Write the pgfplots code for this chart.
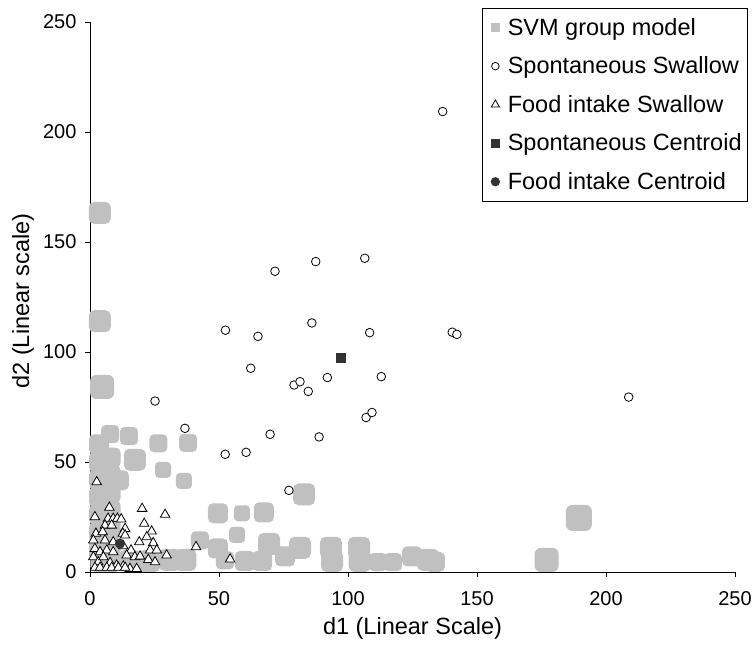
\documentclass[border=0pt]{standalone}
\usepackage{pgfplots}
\pgfplotsset{compat=1.18}
\usepackage{fontspec}
\setmainfont{Liberation Sans}
\definecolor{svmgray}{RGB}{192,192,192}
\definecolor{cdark}{RGB}{51,51,51}
\pgfdeclareplotmark{rsq}{%
  \pgfpathmoveto{\pgfqpoint{-\pgfplotmarksize}{0pt}}%
  \pgfpathlineto{\pgfqpoint{-\pgfplotmarksize}{0.5\pgfplotmarksize}}%
  \pgfpathcurveto{\pgfqpoint{-\pgfplotmarksize}{0.78\pgfplotmarksize}}{\pgfqpoint{-0.78\pgfplotmarksize}{\pgfplotmarksize}}{\pgfqpoint{-0.5\pgfplotmarksize}{\pgfplotmarksize}}%
  \pgfpathlineto{\pgfqpoint{0.5\pgfplotmarksize}{\pgfplotmarksize}}%
  \pgfpathcurveto{\pgfqpoint{0.78\pgfplotmarksize}{\pgfplotmarksize}}{\pgfqpoint{\pgfplotmarksize}{0.78\pgfplotmarksize}}{\pgfqpoint{\pgfplotmarksize}{0.5\pgfplotmarksize}}%
  \pgfpathlineto{\pgfqpoint{\pgfplotmarksize}{-0.5\pgfplotmarksize}}%
  \pgfpathcurveto{\pgfqpoint{\pgfplotmarksize}{-0.78\pgfplotmarksize}}{\pgfqpoint{0.78\pgfplotmarksize}{-\pgfplotmarksize}}{\pgfqpoint{0.5\pgfplotmarksize}{-\pgfplotmarksize}}%
  \pgfpathlineto{\pgfqpoint{-0.5\pgfplotmarksize}{-\pgfplotmarksize}}%
  \pgfpathcurveto{\pgfqpoint{-0.78\pgfplotmarksize}{-\pgfplotmarksize}}{\pgfqpoint{-\pgfplotmarksize}{-0.78\pgfplotmarksize}}{\pgfqpoint{-\pgfplotmarksize}{-0.5\pgfplotmarksize}}%
  \pgfpathclose
  \pgfusepathqfill}
\begin{document}
\begin{tikzpicture}
\useasboundingbox (0,0) rectangle (756pt,647pt);
\begin{axis}[
  at={(90pt,75pt)}, anchor=south west,
  width=645pt, height=550pt, scale only axis,
  xmin=0, xmax=250, ymin=0, ymax=250,
  xtick={0,50,...,250}, ytick={0,50,...,250},
  axis x line*=bottom, axis y line*=left,
  axis line style={black, line width=0.8pt},
  tick align=outside, major tick length=5pt,
  tick style={black, line width=0.8pt},
  /pgf/number format/assume math mode=true,
  ticklabel style={font=\fontsize{20}{24}\selectfont},
  xticklabel style={yshift=-11pt},
  yticklabel style={xshift=-5pt},
  xlabel={d1 (Linear Scale)}, ylabel={d2 (Linear scale)},
  every axis x label/.style={at={(axis description cs:0.5,-0.1018)}, anchor=center, font=\fontsize{23.5}{28}\selectfont},
  every axis y label/.style={at={(axis description cs:-0.1039,0.4927)}, rotate=90, anchor=center, font=\fontsize{23.5}{28}\selectfont},
  clip=false,
  legend style={at={(1.0202,1.0255)}, anchor=north east, draw=black, line width=0.8pt,
    fill=white, font=\fontsize{23.5}{28}\selectfont, row sep=16pt, inner xsep=4pt, inner ysep=8pt},
  legend cell align=left,
  legend image code/.code={\path (-4pt,0pt) (15pt,0pt); \draw[#1, line width=0.8pt] plot coordinates {(5pt,0pt)};},
]
% SVM group model blobs, grouped by marker size
\addplot[only marks, mark=rsq, color=svmgray, mark size=8pt, forget plot] coordinates {
(28.3,46.4)(36.4,41.4)(58.9,26.7)(57,16.9)
};
\addplot[only marks, mark=rsq, color=svmgray, mark size=9pt, forget plot] coordinates {
(7.8,62.7)(15.1,61.8)(26.5,58.5)(38,58.7)(42.6,14.4)(52.3,5.3)(111.6,4.5)(117.4,4.5)
};
\addplot[only marks, mark=rsq, color=svmgray, mark size=10pt, forget plot] coordinates {
(3.5,58)(3.5,50)(3.5,42)(3.5,34)(3.5,26)(3.5,18)(3.5,10)(4,4.6)
(8,52)(8,44)(11.2,41.7)(8,36)(8,28)(8,20)(8,12)(8,4.6)
(49.6,26.7)(67.4,27.1)(49.6,10.7)(60,5)(66.7,5)(75.6,7.1)(124.8,7.1)(133.7,4.6)
};
\addplot[only marks, mark=rsq, color=svmgray, mark size=11pt, forget plot] coordinates {
(3.8,163.2)(3.8,114)(17.4,51)(15.5,5)(23,5)(31,5.5)(37,5.5)(69.4,12.8)(81.4,11)(83,35.3)
(93.4,11)(93.8,5)(104.3,11)(104.5,5)(131,5.5)
};
\addplot[only marks, mark=rsq, color=svmgray, mark size=12pt, forget plot] coordinates {
(4.7,84.1)(177,5.5)
};
\addplot[only marks, mark=rsq, color=svmgray, mark size=13pt, forget plot] coordinates {
(189.5,24.6)
};
% Spontaneous swallow
\addplot[only marks, mark=*, mark size=4.3pt, mark options={fill=white, draw=black, line width=0.8pt}, forget plot] coordinates {
(136.7,209.3)(87.5,141.1)(106.5,142.6)(71.7,136.7)(52.5,109.9)(65.1,107.1)(86.0,113.2)
(108.4,108.8)(140.4,109)(142.2,108)(62.3,92.6)(79.1,85)(81.4,86.5)(84.6,82.1)(92.0,88.4)
(112.9,88.8)(208.8,79.5)(107.0,70.2)(109.3,72.5)(69.8,62.6)(88.8,61.4)(25.2,77.7)
(36.8,65.3)(52.4,53.5)(60.5,54.4)(77.1,37.1)
};
% Food intake swallow
\addplot[only marks, mark=triangle*, mark size=5.5pt, mark options={fill=white, draw=black, line width=0.8pt}, forget plot] coordinates {
(2.6,40.9)(7.5,29.3)(20.2,28.8)(29.1,26.1)(1.9,25)(7.0,24.3)(9.0,24.3)(10.6,24.3)(12.1,24)
(21,22)(5.8,21.2)(8.4,21.2)(13.6,19.7)(23.9,18.5)(2.3,17.5)(4.9,18.2)(12.7,17.5)(13.6,16.7)
(22,15.9)(1.3,14.4)(5.8,14.4)(9.0,13.6)(19.1,13.6)(24.5,13.2)(41.1,11.4)(12.9,11.8)(15.9,9.9)
(23.3,9.9)(25.9,9.9)(1.9,10.6)(3.9,9.1)(6.5,9.9)(9.0,9.1)(29.7,7.6)(14.2,7.6)(17.4,6.8)
(19.4,7.1)(22.6,5.6)(25.2,4.5)(54.3,5.8)(1.3,6.8)(3.2,4.5)(5.2,6.8)(7.8,4.2)(10.3,3)
(12.9,2.6)(15.5,1.5)(18.1,1.5)(1.9,2)(3.9,2)(6.5,2)(8.4,2)(11,2)(13.6,2)
};
% Centroids
\addplot[only marks, mark=square*, mark size=4.6pt, color=cdark, forget plot] coordinates {(97.2,97.5)};
\addplot[only marks, mark=*, mark size=4.8pt, color=cdark, forget plot] coordinates {(11.6,12.9)};
% Legend
\addlegendimage{only marks, mark=square*, mark size=4pt, color=svmgray}
\addlegendentry{SVM group model}
\addlegendimage{only marks, mark=*, mark size=3.8pt, mark options={fill=white, draw=black}}
\addlegendentry{Spontaneous Swallow}
\addlegendimage{only marks, mark=triangle*, mark size=4.8pt, mark options={fill=white, draw=black}}
\addlegendentry{Food intake Swallow}
\addlegendimage{only marks, mark=square*, mark size=4.2pt, color=cdark}
\addlegendentry{Spontaneous Centroid}
\addlegendimage{only marks, mark=*, mark size=4.2pt, color=cdark}
\addlegendentry{Food intake Centroid}
\end{axis}
\end{tikzpicture}
\end{document}
